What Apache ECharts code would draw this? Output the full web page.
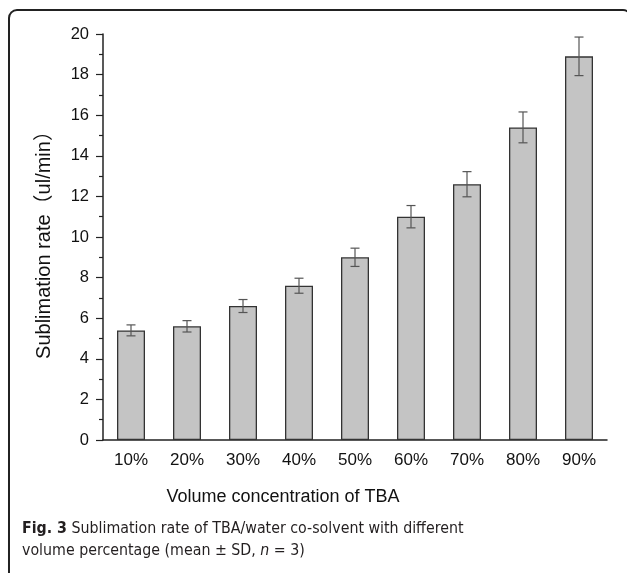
<!DOCTYPE html>
<html>
<head>
<meta charset="utf-8">
<script src="https://cdn.jsdelivr.net/npm/echarts@6/dist/echarts.min.js"></script>
<style>
html,body{margin:0;padding:0;background:#fff;}
#chart{width:627px;height:573px;}
</style>
</head>
<body>
<div id="chart"></div>
<script>
// ---- data ----
const categories = ['10%','20%','30%','40%','50%','60%','70%','80%','90%'];
const means = [5.4, 5.6, 6.6, 7.6, 9.0, 11.0, 12.6, 15.4, 18.9];
const sds = [0.27, 0.28, 0.32, 0.37, 0.45, 0.55, 0.62, 0.76, 0.95];
const yTicks = [0, 2, 4, 6, 8, 10, 12, 14, 16, 18, 20];
const yTitle = 'Sublimation rate（ul/min）';
const xTitle = 'Volume concentration of TBA';
const captionBold = 'Fig. 3';
const captionLine1 = ' Sublimation rate of TBA/water co-solvent with different';
const captionLine2a = 'volume percentage (mean ± SD, ';
const captionLine2n = 'n';
const captionLine2b = ' = 3)';

const errData = means.map((m, i) => [i, m - sds[i], m + sds[i]]);

const chart = echarts.init(document.getElementById('chart'));
const tickFont = { fontFamily: 'Liberation Sans, Arial, sans-serif', color: '#111' };
const capFont = '"DejaVu Sans Condensed", "Liberation Sans Narrow", sans-serif';

chart.setOption({
  animation: false,
  backgroundColor: '#fff',
  grid: { left: 103, right: 20, top: 34, bottom: 133, containLabel: false },
  xAxis: [{
    type: 'category',
    data: categories,
    axisLine: { lineStyle: { color: '#222', width: 1.5 } },
    axisTick: { alignWithLabel: true, length: 6, lineStyle: { color: '#222', width: 1.5 } },
    axisLabel: Object.assign({ margin: 12, fontSize: 17 }, tickFont),
    splitLine: { show: false }
  }, {
    type: 'category',
    data: categories,
    position: 'bottom',
    axisLine: { show: false },
    axisTick: { alignWithLabel: false, length: 3, lineStyle: { color: '#222', width: 1.2 } },
    axisLabel: { show: false },
    splitLine: { show: false }
  }],
  yAxis: {
    type: 'value',
    min: yTicks[0],
    max: yTicks[yTicks.length - 1],
    interval: 2,
    axisLine: { show: true, lineStyle: { color: '#222', width: 1.5 } },
    axisTick: { show: true, length: 7, lineStyle: { color: '#222', width: 1.2 } },
    minorTick: { show: true, splitNumber: 2, length: 4, lineStyle: { color: '#222', width: 1.2 } },
    axisLabel: Object.assign({ margin: 14, fontSize: 16.5 }, tickFont),
    splitLine: { show: false }
  },
  series: [{
    type: 'bar',
    data: means,
    barWidth: '50%',
    itemStyle: { color: '#c4c4c4', borderColor: '#333', borderWidth: 1.3 },
    z: 2
  }, {
    type: 'custom',
    data: errData,
    z: 5,
    renderItem: function (params, api) {
      const x = api.value(0);
      const pLo = api.coord([x, api.value(1)]);
      const pHi = api.coord([x, api.value(2)]);
      const hw = 4.5;
      const st = { stroke: '#555', lineWidth: 1.2 };
      return {
        type: 'group',
        children: [
          { type: 'line', shape: { x1: pHi[0], y1: pHi[1], x2: pLo[0], y2: pLo[1] }, style: st },
          { type: 'line', shape: { x1: pHi[0] - hw, y1: pHi[1], x2: pHi[0] + hw, y2: pHi[1] }, style: st },
          { type: 'line', shape: { x1: pLo[0] - hw, y1: pLo[1], x2: pLo[0] + hw, y2: pLo[1] }, style: st }
        ]
      };
    }
  }],
  graphic: [
    {
      type: 'rect',
      shape: { x: 9, y: 10, width: 622, height: 620, r: 8 },
      style: { fill: 'none', stroke: '#222', lineWidth: 2 },
      silent: true
    },
    {
      type: 'text',
      x: 44, y: 240,
      rotation: Math.PI / 2,
      style: {
        text: yTitle,
        font: '20px "Liberation Sans", Arial, "Noto Sans CJK SC", sans-serif',
        fill: '#111',
        align: 'center',
        verticalAlign: 'middle'
      }
    },
    {
      type: 'text',
      x: 283, y: 497,
      style: {
        text: xTitle,
        font: '18px "Liberation Sans", Arial, sans-serif',
        fill: '#111',
        align: 'center',
        verticalAlign: 'middle'
      }
    },
    {
      type: 'text',
      x: 22, y: 529,
      style: {
        text: '{b|' + captionBold + '}{r|' + captionLine1 + '}',
        verticalAlign: 'middle',
        rich: {
          b: { fontFamily: capFont, fontSize: 15.8, fontWeight: 'bold', fill: '#231f20' },
          r: { fontFamily: capFont, fontSize: 15.8, fill: '#231f20' }
        }
      }
    },
    {
      type: 'text',
      x: 22, y: 551,
      style: {
        text: '{r|' + captionLine2a + '}{i|' + captionLine2n + '}{r|' + captionLine2b + '}',
        verticalAlign: 'middle',
        rich: {
          r: { fontFamily: capFont, fontSize: 15.8, fill: '#231f20' },
          i: { fontFamily: capFont, fontSize: 15.8, fontStyle: 'italic', fill: '#231f20' }
        }
      }
    }
  ]
});
</script>
</body>
</html>
